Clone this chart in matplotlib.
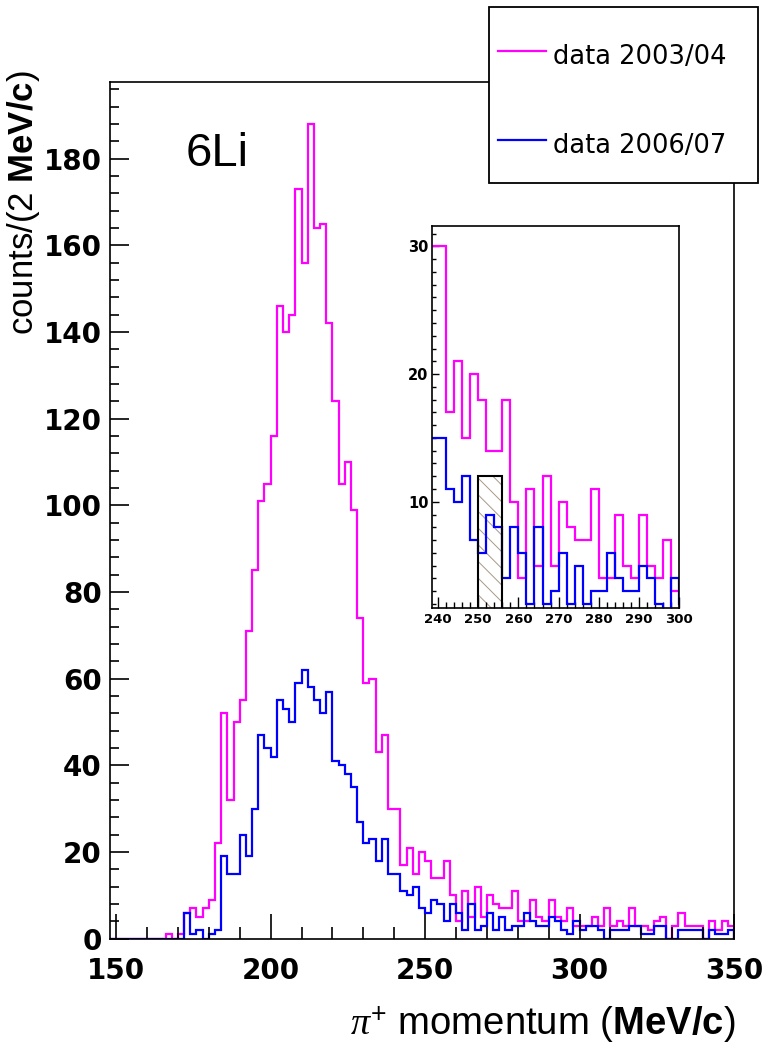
import numpy as np
import matplotlib.pyplot as plt
from matplotlib.patches import Rectangle
from matplotlib.lines import Line2D
from matplotlib.ticker import MultipleLocator

plt.rcParams['mathtext.fontset'] = 'custom'
plt.rcParams['mathtext.rm'] = 'Liberation Sans'
plt.rcParams['mathtext.it'] = 'Liberation Serif:italic'
plt.rcParams['mathtext.bf'] = 'Liberation Sans:bold'
plt.rcParams['hatch.linewidth'] = 0.7

# 2 MeV/c bins from 148 to 350 MeV/c
edges = np.arange(148, 352, 2)

# counts, data 2003/04
counts_0304 = [
    0, 0, 0, 0, 0, 0, 0, 0, 0,                    # 148-164
    1, 0, 1, 6, 7, 5, 7, 9,                       # 166-180
    22, 52, 32, 50, 55, 71, 85, 101, 105,         # 182-198
    116, 146, 140, 144, 173, 156, 188, 164, 165, 142,
    124, 105, 110, 99, 74, 59, 60, 43, 47, 30,
    30, 17, 21, 15, 20, 18, 14, 14, 18, 10,
    4, 11, 5, 12, 5, 10, 8, 7, 7, 11,
    4, 4, 9, 5, 4, 9, 5, 4, 7, 3,
    3, 3, 5, 3, 7, 3, 4, 3, 7, 3,
    3, 2, 4, 5, 0, 3, 6, 3, 3, 3,
    0, 4, 2, 4, 3,
]

# counts, data 2006/07
counts_0607 = [
    0, 0, 0, 0, 0, 0, 0, 0, 0, 0, 0, 0,           # 148-170
    6, 1, 2, 0, 1, 2, 19, 15, 15, 24, 19, 30, 47, 44,  # 172-198
    42, 55, 53, 50, 59, 62, 58, 55, 52, 57,
    41, 40, 38, 35, 27, 22, 23, 18, 23, 15,
    15, 11, 10, 12, 7, 6, 9, 8, 4, 8,
    6, 2, 8, 2, 3, 6, 2, 5, 2, 3,
    3, 6, 4, 3, 3, 5, 4, 2, 1, 4,
    2, 3, 3, 2, 0, 2, 2, 2, 3, 3,
    1, 1, 3, 3, 0, 0, 2, 2, 2, 2,
    0, 2, 1, 1, 2,
]

labels = ['data 2003/04', 'data 2006/07']
colors = ['#ff00ff', '#0000ff']

# signal window shown in the zoom
window_lo, window_hi, window_h = 250, 256, 12

main_xticks = [150, 200, 250, 300, 350]
main_yticks = list(range(0, 181, 20))
inset_xticks = [240, 250, 260, 270, 280, 290, 300]
inset_yticks = [10, 20, 30]

W, H = 767, 1051
fig = plt.figure(figsize=(W / 100, H / 100), dpi=100)


def fx(px):
    return px / W


def fy(py):
    return 1 - py / H


# main histogram
ax = fig.add_axes([fx(110), fy(938.5), 624 / W, (938.5 - 82) / H])
for c, col in zip([counts_0304, counts_0607], colors):
    ax.stairs(c, edges, color=col, lw=1.6, baseline=0)
ax.set_xlim(148, 350)
ax.set_ylim(0, 197.7)

ax.set_xticks(main_xticks, labels=[str(t) for t in main_xticks],
              fontsize=20, fontweight='bold', family='DejaVu Sans')
ax.set_yticks(main_yticks, labels=[str(t) for t in main_yticks],
              fontsize=20, fontweight='bold', family='DejaVu Sans')
ax.xaxis.set_minor_locator(MultipleLocator(10))
ax.yaxis.set_minor_locator(MultipleLocator(4))
ax.tick_params(axis='x', which='major', direction='in', length=18, width=1.2, pad=13)
ax.tick_params(axis='x', which='minor', direction='in', length=9, width=1.2)
ax.tick_params(axis='y', which='major', direction='in', length=13.5, width=1.2, pad=6)
ax.tick_params(axis='y', which='minor', direction='in', length=6.7, width=1.2)
for s in ax.spines.values():
    s.set_linewidth(1.2)

# zoomed tail
axi = fig.add_axes([fx(431.5), fy(607.7), 247.8 / W, 381.7 / H])
axi.bar(window_lo, window_h, width=window_hi - window_lo, align='edge',
        fill=False, hatch='\\\\', edgecolor='#a89888', lw=0, zorder=1)
axi.bar(window_lo, window_h, width=window_hi - window_lo, align='edge',
        fill=False, edgecolor='black', lw=1.5, zorder=3)
for c, col in zip([counts_0304, counts_0607], colors):
    axi.stairs(c, edges, color=col, lw=1.6, baseline=0, zorder=2)
axi.set_xlim(238.4, 300)
axi.set_ylim(1.7, 31.6)
axi.set_xticks(inset_xticks, labels=[str(t) for t in inset_xticks],
               fontsize=9.5, fontweight='bold')
axi.set_yticks(inset_yticks, labels=[str(t) for t in inset_yticks],
               fontsize=10.5, fontweight='bold')
axi.xaxis.set_minor_locator(MultipleLocator(2))
axi.yaxis.set_minor_locator(MultipleLocator(1))
axi.tick_params(axis='x', which='major', direction='in', length=8, width=1, pad=4)
axi.tick_params(axis='x', which='minor', direction='in', length=4, width=1)
axi.tick_params(axis='y', which='major', direction='in', length=5.3, width=1, pad=2)
axi.tick_params(axis='y', which='minor', direction='in', length=2.7, width=1)
for s in axi.spines.values():
    s.set_linewidth(1.2)

# texts
fig.text(fx(186), fy(166), '6Li', fontsize=34, family='Liberation Sans',
         ha='left', va='baseline')
fig.text(fx(24), fy(70), r'counts/(2 $\mathbf{MeV/c}$)', rotation=90,
         ha='center', va='top', fontsize=25, family='Liberation Sans')
fig.text(fx(735), fy(1025), r'$\pi^{+}$ momentum ($\mathbf{MeV/c}$)',
         ha='right', va='center', fontsize=27.5, family='Liberation Sans')

# legend box
fig.add_artist(Rectangle((fx(489), fy(183)), (758 - 489) / W, (183 - 7) / H,
                         transform=fig.transFigure, facecolor='white',
                         edgecolor='black', lw=1.3, zorder=10))
for lab, col, yl, yb in zip(labels, colors, [51, 140], [64, 153]):
    fig.add_artist(Line2D([fx(498), fx(546)], [fy(yl), fy(yl)], color=col,
                          lw=1.6, transform=fig.transFigure, zorder=11))
    fig.text(fx(553), fy(yb), lab, fontsize=18.5, ha='left', va='baseline',
             zorder=11)

fig.savefig('out.png', dpi=100)
